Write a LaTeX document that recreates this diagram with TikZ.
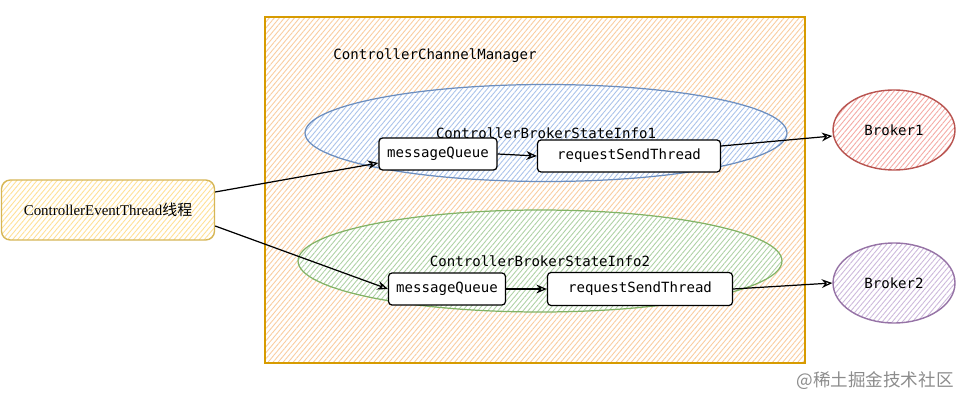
\documentclass[tikz,border=0pt]{standalone}
\usepackage{fontspec}
\setmainfont{Liberation Serif}
\setmonofont{DejaVu Sans Mono}
\newfontfamily\cjkfont{Noto Sans CJK SC}
\usetikzlibrary{positioning, arrows.meta, shapes.geometric, patterns.meta}
\definecolor{mgrfill}{RGB}{250, 205, 160}
\definecolor{mgrline}{RGB}{215, 155, 0}
\definecolor{bluefill}{RGB}{170, 195, 235}
\definecolor{blueline}{RGB}{108, 142, 191}
\definecolor{greenfill}{RGB}{175, 210, 165}
\definecolor{greenline}{RGB}{130, 179, 102}
\definecolor{redfill}{RGB}{245, 170, 165}
\definecolor{redline}{RGB}{184, 84, 80}
\definecolor{purplefill}{RGB}{205, 185, 220}
\definecolor{purpleline}{RGB}{150, 115, 166}
\definecolor{yellowfill}{RGB}{255, 225, 150}
\definecolor{yellowline}{RGB}{214, 182, 86}

\tikzset{
    hatched/.style={preaction={fill=white},
        pattern={Lines[angle=50, distance=2.2pt, line width=0.5pt]},
        pattern color=#1},
    queuebox/.style={draw=black, fill=white, rounded corners=2pt,
        line width=0.7pt, inner sep=0pt, font=\ttfamily\fontsize{8}{9}\selectfont},
    statecloud/.style={ellipse, line width=0.7pt, inner sep=0pt,
        font=\ttfamily\fontsize{8}{9}\selectfont},
    brokernode/.style={ellipse, line width=0.8pt, inner sep=0pt,
        minimum width=2.44cm, minimum height=1.6cm,
        font=\ttfamily\fontsize{8}{9}\selectfont},
    link/.style={-{Stealth[open, length=6pt, width=5pt]}, line width=0.7pt}
}

\begin{document}
\begin{tikzpicture}[x=0.02cm, y=-0.02cm]
    \useasboundingbox (0, 0) rectangle (969, 405);

    % channel manager
    \node[draw=mgrline, hatched=mgrfill, line width=0.8pt,
          minimum width=10.8cm, minimum height=6.92cm] (manager) at (535, 190) {};
    \node[font=\ttfamily\fontsize{8}{9}\selectfont] (managerlabel) at (435, 56)
        {ControllerChannelManager};

    % broker state infos
    \node[statecloud, draw=blueline, hatched=bluefill,
          minimum width=9.64cm, minimum height=1.94cm] (infoone) at (546, 133)
        {ControllerBrokerStateInfo1};
    \node[statecloud, draw=greenline, hatched=greenfill,
          minimum width=9.68cm, minimum height=2.04cm] (infotwo) at (540, 261)
        {ControllerBrokerStateInfo2};

    \node[queuebox, minimum width=2.36cm, minimum height=0.64cm] (mqone) at (438, 154)
        {messageQueue};
    \node[queuebox, minimum width=3.66cm, minimum height=0.64cm] (rstone) at (629, 156)
        {requestSendThread};
    \node[queuebox, minimum width=2.34cm, minimum height=0.64cm] (mqtwo) at (447, 289)
        {messageQueue};
    \node[queuebox, minimum width=3.7cm, minimum height=0.66cm] (rsttwo) at (640, 289)
        {requestSendThread};

    % brokers
    \node[brokernode, draw=redline, hatched=redfill] (brokerone) at (894, 130)
        {Broker1};
    \node[brokernode, draw=purpleline, hatched=purplefill] (brokertwo) at (894, 283)
        {Broker2};

    % event thread
    \node[draw=yellowline, hatched=yellowfill, rounded corners=5pt, line width=0.8pt,
          minimum width=4.26cm, minimum height=1.2cm,
          font=\fontsize{8.5}{10}\selectfont] (event) at (108, 210)
        {ControllerEventThread{\cjkfont 线程}};

    \draw[link] ([yshift=0.36cm]event.east) -- ([yshift=-0.18cm]mqone.west);
    \draw[link] ([yshift=-0.32cm]event.east) -- (mqtwo.west);
    \draw[link] (mqone.east) -- (rstone.west);
    \draw[link] ([yshift=0.2cm]rstone.east) -- ([yshift=-0.12cm]brokerone.west);
    \draw[link] (mqtwo.east) -- (rsttwo.west);
    \draw[link] (rsttwo.east) -- (brokertwo.west);

    \node[text=black!45, font=\cjkfont\fontsize{10}{12}\selectfont] (mark) at (875, 381)
        {@稀土掘金技术社区};
\end{tikzpicture}
\end{document}
